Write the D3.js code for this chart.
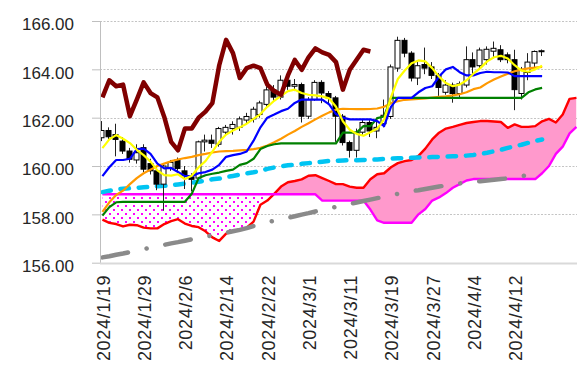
<!DOCTYPE html>
<html>
<head>
<meta charset="utf-8">
<script src="https://cdnjs.cloudflare.com/ajax/libs/d3/7.8.5/d3.min.js"></script>
<style>
  body { margin: 0; background: #fff; }
  svg { display: block; font-family: "Liberation Sans", Arial, sans-serif; }
</style>
</head>
<body>
<div id="chart"></div>
<script>
// trading days (last 5 are cloud-only days)
const dates = [
  "2024/1/19","2024/1/22","2024/1/23","2024/1/24","2024/1/25","2024/1/26",
  "2024/1/29","2024/1/30","2024/1/31","2024/2/1","2024/2/2","2024/2/5",
  "2024/2/6","2024/2/7","2024/2/8","2024/2/9","2024/2/12","2024/2/13",
  "2024/2/14","2024/2/15","2024/2/16","2024/2/19","2024/2/20","2024/2/21",
  "2024/2/22","2024/2/23","2024/2/26","2024/2/27","2024/2/28","2024/2/29",
  "2024/3/1","2024/3/4","2024/3/5","2024/3/6","2024/3/7","2024/3/8",
  "2024/3/11","2024/3/12","2024/3/13","2024/3/14","2024/3/15","2024/3/18",
  "2024/3/19","2024/3/20","2024/3/21","2024/3/22","2024/3/25","2024/3/26",
  "2024/3/27","2024/3/28","2024/3/29","2024/4/1","2024/4/2","2024/4/3",
  "2024/4/4","2024/4/5","2024/4/8","2024/4/9","2024/4/10","2024/4/11",
  "2024/4/12","2024/4/15","2024/4/16","2024/4/17","2024/4/18","2024/4/19",
  "2024/4/22","2024/4/23","2024/4/24","2024/4/25"
];
const tickDates = ["2024/1/19","2024/1/29","2024/2/6","2024/2/14","2024/2/22","2024/3/1",
  "2024/3/11","2024/3/19","2024/3/27","2024/4/4","2024/4/12"];
const yTicks = [156, 158, 160, 162, 164, 166];

const openP = [161.17,161.47,161.30,161.03,160.62,160.25,160.76,160.10,159.80,159.25,
  159.90,160.25,159.80,159.55,159.50,161.00,161.07,160.90,161.40,161.55,
  161.60,161.90,161.95,162.13,162.55,163.15,162.85,163.55,163.30,163.37,
  162.06,162.75,163.46,163.00,162.82,162.06,160.97,160.65,161.40,161.80,
  161.45,161.75,162.05,164.05,165.20,164.67,163.64,164.20,164.10,163.75,
  163.05,163.35,163.00,163.35,164.40,164.15,164.40,164.75,164.81,164.60,
  164.40,163.00,163.87,164.26,164.74];
const highP = [161.86,161.60,161.75,161.20,160.75,160.90,160.90,160.30,159.95,160.10,
  160.25,160.35,160.00,159.70,161.05,161.30,161.30,161.62,161.70,161.85,
  162.05,162.20,162.45,162.70,163.30,163.35,163.75,163.80,163.60,163.45,
  162.85,163.55,163.55,163.10,162.90,162.15,161.05,161.55,161.95,161.90,
  162.00,162.75,164.20,165.35,165.30,164.75,164.30,164.90,164.30,163.85,
  163.55,163.45,163.50,164.95,164.70,164.90,164.95,165.15,165.00,164.70,
  164.81,164.10,164.67,164.78,164.82];
const lowP = [161.03,161.10,160.40,160.50,160.14,160.10,159.75,159.65,159.00,158.15,
  159.80,159.80,159.05,158.95,159.45,160.60,160.75,160.80,161.25,161.30,
  161.45,161.70,161.80,162.00,162.45,162.70,162.75,163.15,163.10,161.80,
  161.95,162.70,162.60,162.55,161.00,160.85,160.35,160.35,161.30,161.20,
  161.15,161.60,161.95,163.90,164.50,163.50,163.35,163.80,163.60,162.90,
  162.95,162.62,162.85,163.25,163.80,164.00,164.20,164.50,164.30,164.25,
  162.31,162.75,163.55,164.10,164.55];
const closeP = [161.47,161.21,161.10,160.62,160.28,160.55,159.87,159.80,159.25,160.00,
  160.15,159.90,159.60,159.45,161.00,161.07,160.94,161.55,161.60,161.72,
  161.95,162.05,162.35,162.61,163.15,162.85,163.55,163.30,163.37,162.06,
  162.75,163.46,163.02,162.82,162.06,160.97,160.65,161.40,161.80,161.45,
  161.60,162.10,164.10,165.20,164.67,163.64,164.15,164.05,163.75,163.25,
  163.35,163.00,163.40,164.40,164.10,164.80,164.83,164.87,164.40,164.40,
  163.16,164.00,164.30,164.74,164.77];

// ichimoku lines
const tenkan = [159.58,159.95,160.25,160.25,160.30,160.70,160.72,160.50,160.10,159.90,
  159.92,159.75,159.58,159.58,159.70,159.75,159.85,160.05,160.38,160.45,
  160.50,160.60,161.05,161.60,162.00,162.13,162.27,162.37,162.61,162.75,
  162.75,162.75,162.75,162.55,162.15,162.00,161.93,161.93,161.93,161.93,
  161.86,161.65,162.45,162.82,162.82,162.82,163.05,163.23,163.30,163.70,
  164.00,164.10,163.88,163.75,163.75,163.85,163.90,163.88,163.88,163.87,
  163.72,163.72,163.72,163.72,163.72];
const kijun = [157.95,158.30,158.50,158.52,158.52,158.52,158.52,158.52,158.52,158.52,
  158.52,158.52,158.52,158.85,159.50,159.62,159.68,159.73,159.80,159.85,
  160.05,160.12,160.30,160.70,160.83,160.90,160.94,160.94,160.94,160.94,
  160.94,160.94,160.94,160.94,160.94,161.38,161.38,161.38,161.65,161.65,
  161.98,162.05,162.82,162.82,162.82,162.82,162.82,162.82,162.82,162.82,
  162.82,162.82,162.82,162.82,162.82,162.82,162.82,162.82,162.82,162.82,
  162.82,162.82,163.05,163.17,163.23];
const chikou = [162.84,163.55,163.30,163.37,162.06,162.75,163.46,163.02,162.84,162.03,
  161.00,160.65,161.55,161.55,162.00,162.25,162.60,164.17,165.22,164.67,
  163.64,164.05,164.15,164.05,163.37,163.10,162.95,163.75,164.39,163.98,
  164.50,164.87,164.70,164.60,164.30,163.16,163.98,164.40,164.81,164.74];
const senkouA = [157.78,157.65,157.60,157.50,157.57,157.55,157.45,157.42,157.42,157.60,
  157.72,157.80,157.62,157.52,157.47,157.30,157.05,156.90,157.20,157.30,
  157.38,157.45,157.70,158.40,158.57,158.85,159.15,159.33,159.38,159.45,
  159.60,159.62,159.50,159.38,159.25,159.25,159.15,159.10,159.10,159.45,
  159.66,159.70,159.95,160.12,160.20,160.25,160.42,160.72,161.10,161.38,
  161.55,161.62,161.70,161.78,161.82,161.86,161.86,161.84,161.82,161.58,
  161.72,161.62,161.62,161.65,161.85,161.95,161.80,162.13,162.78,162.82];
const senkouB = [158.83,158.83,158.83,158.83,158.83,158.83,158.83,158.83,158.83,158.83,
  158.83,158.83,158.83,158.83,158.83,158.83,158.83,158.83,158.83,158.83,
  158.83,158.83,158.83,158.83,158.83,158.83,158.83,158.83,158.83,158.83,
  158.83,158.83,158.57,158.57,158.57,158.57,158.57,158.57,158.57,158.20,
  157.75,157.65,157.65,157.65,157.65,157.65,158.00,158.22,158.57,158.70,
  158.88,159.10,159.25,159.40,159.46,159.46,159.46,159.46,159.46,159.46,
  159.46,159.46,159.46,159.46,159.70,160.00,160.50,160.80,161.35,161.62];

// moving averages
const maYellow = [160.74,161.10,161.28,161.13,160.95,160.67,160.45,160.18,159.82,159.62,
  159.60,159.66,159.46,159.60,159.95,160.20,160.60,161.00,161.30,161.47,
  161.60,161.75,161.95,162.15,162.45,162.70,162.90,163.10,163.16,163.02,
  162.95,162.92,162.88,162.80,162.45,161.85,161.50,161.33,161.25,161.40,
  161.55,161.93,162.85,163.60,163.95,164.25,164.37,164.33,164.05,163.70,
  163.43,163.30,163.37,163.55,163.82,164.05,164.33,164.50,164.56,164.45,
  164.17,163.95,163.90,164.00,164.15];
const maOrange = [158.10,158.50,158.80,158.98,159.25,159.50,159.70,159.85,160.00,160.10,
  160.20,160.27,160.33,160.38,160.45,160.50,160.56,160.60,160.62,160.63,
  160.65,160.67,160.70,160.75,160.85,160.98,161.13,161.30,161.45,161.62,
  161.77,161.93,162.08,162.22,162.33,162.37,162.36,162.35,162.35,162.36,
  162.38,162.45,162.60,162.68,162.74,162.76,162.78,162.80,162.83,162.86,
  162.88,162.92,162.97,163.05,163.18,163.25,163.43,163.58,163.70,163.82,
  163.92,163.99,164.04,164.07,164.10];
const maCyan = [158.92,158.98,159.03,159.06,159.08,159.10,159.12,159.14,159.16,159.18,
  159.21,159.24,159.27,159.31,159.35,159.40,159.45,159.48,159.54,159.59,
  159.64,159.70,159.74,159.80,159.88,159.94,159.99,160.03,160.06,160.09,
  160.12,160.15,160.18,160.21,160.22,160.23,160.24,160.24,160.25,160.26,
  160.27,160.29,160.31,160.32,160.33,160.34,160.35,160.36,160.37,160.38,
  160.39,160.40,160.41,160.43,160.46,160.50,160.55,160.61,160.67,160.75,
  160.82,160.88,160.96,161.04,161.10];
const maGray = [156.22,156.27,156.33,156.38,156.44,156.50,156.56,156.62,156.68,156.74,
  156.80,156.85,156.91,156.97,157.02,157.08,157.13,157.18,157.24,157.30,
  157.36,157.43,157.52,157.60,157.67,157.74,157.80,157.86,157.92,157.99,
  158.05,158.12,158.18,158.25,158.31,158.37,158.43,158.49,158.55,158.61,
  158.67,158.73,158.79,158.85,158.91,158.96,159.00,159.05,159.10,159.15,
  159.20,159.24,159.28,159.31,159.34,159.37,159.40,159.43,159.46,159.49,
  159.53,159.58,159.63,159.66,159.69];

const width = 580, height = 376;
const plotLeft = 100, plotRight = 577;

const svg = d3.select("#chart").append("svg")
  .attr("width", width).attr("height", height);

const x = d3.scaleBand().domain(dates).range([99, 579.9]).padding(0);
const y = d3.scaleLinear().domain([156, 166]).range([262.7, 21]);
const cx = (i) => x(dates[i]) + x.bandwidth() / 2;

const defs = svg.append("defs");
defs.append("clipPath").attr("id", "plotClip")
  .append("rect").attr("x", plotLeft).attr("y", 10)
  .attr("width", plotRight - plotLeft).attr("height", 254);

const pat = defs.append("pattern").attr("id", "dots")
  .attr("width", 8).attr("height", 8).attr("patternUnits", "userSpaceOnUse");
pat.append("rect").attr("width", 8).attr("height", 8).attr("fill", "#fff");
pat.append("rect").attr("x", 1).attr("y", 1).attr("width", 2).attr("height", 2).attr("fill", "#ff00ff");
pat.append("rect").attr("x", 5).attr("y", 5).attr("width", 2).attr("height", 2).attr("fill", "#ff00ff");

const cloud = senkouA.map((a, i) => ({ i: i, a: a, b: senkouB[i] }));
defs.append("clipPath").attr("id", "aboveB").append("path")
  .attr("d", d3.area().x(d => cx(d.i)).y0(0).y1(d => y(d.b))(cloud));
defs.append("clipPath").attr("id", "belowB").append("path")
  .attr("d", d3.area().x(d => cx(d.i)).y0(d => y(d.b)).y1(height)(cloud));

// grid
svg.append("g").selectAll("line")
  .data(yTicks.filter(v => v > 156))
  .enter().append("line")
  .attr("x1", plotLeft).attr("x2", plotRight)
  .attr("y1", d => Math.round(y(d)) + 0.5).attr("y2", d => Math.round(y(d)) + 0.5)
  .attr("stroke", "#c4c4c4").attr("stroke-dasharray", "2,1.5");

const plot = svg.append("g").attr("clip-path", "url(#plotClip)");

// cloud
const between = d3.area().x(d => cx(d.i)).y0(d => y(d.b)).y1(d => y(d.a));
plot.append("path").attr("d", between(cloud)).attr("fill", "#ff99cc").attr("clip-path", "url(#aboveB)");
plot.append("path").attr("d", between(cloud)).attr("fill", "url(#dots)").attr("clip-path", "url(#belowB)");

const line = d3.line().x((d, i) => cx(i)).y(d => y(d));
const drawLine = (data, color, w, dash) => {
  const p = plot.append("path").attr("d", line(data))
    .attr("fill", "none").attr("stroke", color).attr("stroke-width", w)
    .attr("stroke-linejoin", "round");
  if (dash) p.attr("stroke-dasharray", dash).attr("stroke-linecap", "round");
  return p;
};

drawLine(senkouA, "#ff0000", 2.4);
drawLine(senkouB, "#ff00ff", 2.4);
drawLine(maGray, "#8a8a8a", 4.5, "26 19 0.1 19");
drawLine(maCyan, "#00c4f2", 4.5, "8.5 9.8");

// candles
const candles = plot.append("g");
closeP.forEach((c, i) => {
  const o = openP[i];
  const xc = Math.round(cx(i)) - 0.5;
  candles.append("line")
    .attr("x1", xc).attr("x2", xc)
    .attr("y1", y(highP[i])).attr("y2", y(lowP[i]))
    .attr("stroke", "#222").attr("stroke-width", 1);
  const top = y(Math.max(o, c)), bot = y(Math.min(o, c));
  candles.append("rect")
    .attr("x", xc - 2.5).attr("width", 5)
    .attr("y", top).attr("height", Math.max(1, bot - top))
    .attr("fill", c >= o ? "#fff" : "#000")
    .attr("stroke", "#000").attr("stroke-width", 1);
});

drawLine(maOrange, "#ff9900", 2.2);
drawLine(kijun, "#008000", 2.2);
drawLine(tenkan, "#0000ff", 2.2);
drawLine(maYellow, "#ffff00", 2.2);
drawLine(chikou, "#800000", 4.5);

// axes
const yAxis = svg.append("g").attr("transform", "translate(100,0)")
  .call(d3.axisLeft(y).tickValues(yTicks).tickFormat(d3.format(".2f"))
    .tickSize(8).tickSizeOuter(0).tickPadding(18));
yAxis.select(".domain").attr("stroke", "#bfbfbf");
yAxis.selectAll(".tick line").attr("stroke", "#bfbfbf");
yAxis.selectAll("text").attr("dy", "0.52em")
  .style("font-size", "17px").attr("fill", "#262626");

svg.append("line")
  .attr("x1", plotLeft).attr("x2", plotRight)
  .attr("y1", y(156) + 0.8).attr("y2", y(156) + 0.8)
  .attr("stroke", "#d9d9d9").attr("stroke-width", 2);

const xAxis = svg.append("g").attr("transform", "translate(0," + y(156) + ")")
  .call(d3.axisBottom(x).tickValues(tickDates).tickSize(0).tickSizeOuter(0));
xAxis.select(".domain").remove();
xAxis.selectAll("text")
  .attr("transform", "rotate(-90)")
  .attr("text-anchor", "end")
  .attr("x", -12).attr("y", 1).attr("dy", "0.35em")
  .style("font-size", "18px").style("letter-spacing", "0.7px")
  .attr("fill", "#262626");
</script>
</body>
</html>
